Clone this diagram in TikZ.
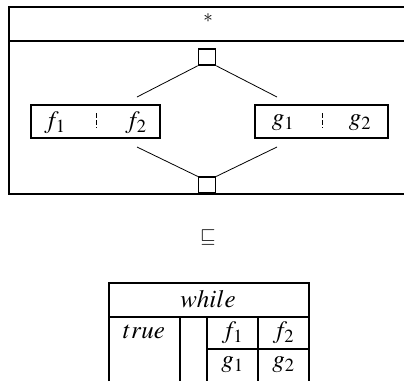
\documentclass[tikz,border=0pt]{standalone}
\usepackage{mathptmx}
\usepackage{fontspec}
\setmainfont{Liberation Serif}
\begin{document}
\begin{tikzpicture}[x=1pt,y=-1pt,
  frame/.style={line width=1.6pt},
  conn/.style={line width=0.8pt},
  sq/.style={draw,line width=1.6pt,minimum width=17pt,minimum height=16pt,inner sep=0pt},
  pbox/.style={draw,line width=1.6pt,minimum width=129pt,minimum height=33pt,inner sep=0pt},
  lbl/.style={inner sep=0pt,font=\fontsize{25}{30}\selectfont}]
\useasboundingbox (0,0) rectangle (404,381);
% outer iteration frame
\draw[frame] (404,7) -- (9,7) -- (9,194) -- (404,194);
\draw[frame] (9,41) -- (404,41);
\node[inner sep=0pt,font=\fontsize{19}{22}\selectfont] (star) at (208,18) {$*$};
% squares
\node[sq] (top) at (207,57) {};
\node[sq,anchor=south] (bot) at (207,194) {};
% parallel boxes
\node[pbox] (fb) at (95.5,121.5) {};
\node[pbox,minimum width=133pt] (gb) at (321.5,121.5) {};
\draw[line width=0.8pt,dash pattern=on 5pt off 2pt] (96,113) -- (96,128);
\draw[line width=0.8pt,dash pattern=on 5pt off 2pt] (322,113) -- (322,128);
\node[lbl] (f1) at (55,123) {$f_1$};
\node[lbl] (f2) at (136,123) {$f_2$};
\node[lbl] (g1) at (283,123) {$g_1$};
\node[lbl] (g2) at (360,123) {$g_2$};
% connector ends
\coordinate (ftop) at (137,97);
\coordinate (gtop) at (277,97);
\coordinate (fbot) at (137,147);
\coordinate (gbot) at (277,147);
\draw[conn] (top.south west) -- (ftop);
\draw[conn] (top.south east) -- (gtop);
\draw[conn] (fbot) -- (bot.north west);
\draw[conn] (gbot) -- (bot.north east);
% refinement symbol
\node[inner sep=0pt,font=\fontsize{20}{24}\selectfont] (ref) at (208,237) {$\sqsubseteq$};
% table
\draw[frame] (109,381) -- (109,283) -- (309,283) -- (309,381);
\draw[frame] (109,317) -- (309,317);
\draw[frame] (180,317) -- (180,381);
\draw[frame] (207,317) -- (207,381);
\draw[frame] (258,317) -- (258,381);
\draw[frame] (207,349) -- (309,349);
\node[lbl] (wh) at (208,299) {$while$};
\node[lbl] (tr) at (144,332) {$true$};
\node[lbl] (tf1) at (232.5,333) {$f_1$};
\node[lbl] (tf2) at (283.5,333) {$f_2$};
\node[lbl] (tg1) at (232.5,365) {$g_1$};
\node[lbl] (tg2) at (283.5,365) {$g_2$};
\end{tikzpicture}
\end{document}
